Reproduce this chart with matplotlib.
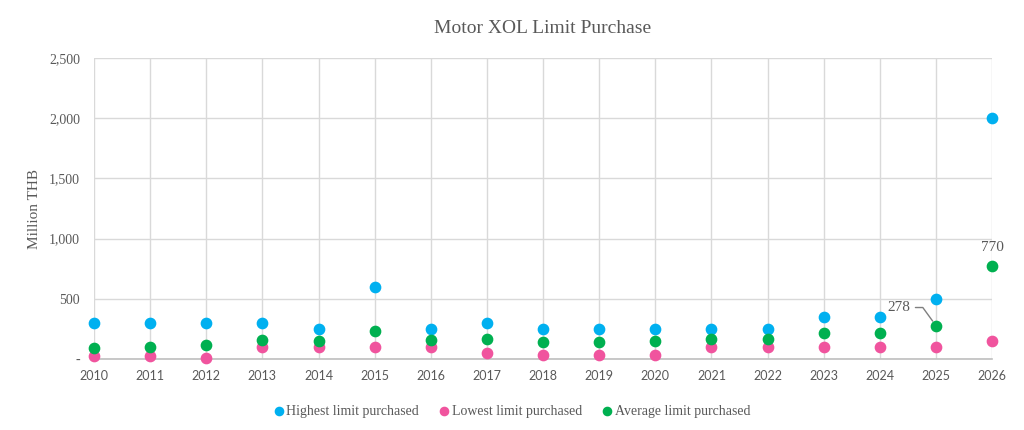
import matplotlib
matplotlib.use("Agg")
import matplotlib.pyplot as plt
from matplotlib.ticker import FuncFormatter

# Data (Million THB)
years = list(range(2010, 2027))
highest = [300, 300, 300, 300, 250, 600, 250, 300, 250, 250, 250, 250, 250, 350, 350, 500, 2000]
lowest = [25, 25, 5, 100, 100, 100, 100, 50, 30, 30, 30, 100, 100, 100, 100, 100, 150]
average = [90, 100, 115, 160, 150, 235, 160, 170, 145, 145, 150, 165, 165, 215, 215, 278, 770]

c_high = "#00B0F0"
c_low = "#F0549E"
c_avg = "#00B050"
txt = "#595959"
serif = ["Liberation Serif", "DejaVu Serif"]

fig = plt.figure(figsize=(10.24, 4.3), dpi=100)
ax = fig.add_axes([0.0918, 0.165, 0.8770, 0.700])

ax.scatter(years, highest, s=55, color=c_high, label="Highest limit purchased", zorder=3, clip_on=False)
ax.scatter(years, lowest, s=55, color=c_low, label="Lowest limit purchased", zorder=3, clip_on=False)
ax.scatter(years, average, s=55, color=c_avg, label="Average limit purchased", zorder=3, clip_on=False)

ax.set_xlim(2010, 2026)
ax.set_ylim(0, 2500)
ax.set_xticks(years)
ax.set_yticks(range(0, 2501, 500))
ax.yaxis.set_major_formatter(FuncFormatter(lambda v, p: "-" if v == 0 else f"{int(v):,}"))

ax.grid(True, color="#D9D9D9", linewidth=1)
ax.set_axisbelow(True)
for s in ["top", "right", "left"]:
    ax.spines[s].set_visible(False)
ax.spines["bottom"].set_color("#BFBFBF")
ax.spines["bottom"].set_linewidth(1.2)
ax.tick_params(length=0, colors=txt)
for lab in ax.get_xticklabels():
    lab.set_fontfamily(["Lato", "DejaVu Sans"])
    lab.set_fontsize(9)
for lab in ax.get_yticklabels():
    lab.set_fontfamily(serif)
    lab.set_fontsize(10)
ax.tick_params(axis="y", pad=10)
ax.tick_params(axis="x", pad=8)

ax.set_ylabel("Million THB", fontfamily=serif, fontsize=11, color=txt, labelpad=6)
ax.set_title("Motor XOL Limit Purchase", fontfamily=serif, fontsize=14, color=txt, pad=18)

# data labels
ax.annotate(f"{average[-1]}", (years[-1], average[-1]), xytext=(0, 9), textcoords="offset points",
            ha="center", va="bottom", fontfamily=serif, fontsize=11, color=txt)
ax.annotate(f"{average[-2]}", (years[-2], average[-2]), xytext=(-27, 13), textcoords="offset points",
            ha="center", va="center", fontfamily=serif, fontsize=11, color=txt,
            arrowprops=dict(arrowstyle="-", color="#7F7F7F", lw=1, relpos=(1, 0.5),
                            connectionstyle="angle,angleA=0,angleB=126,rad=0",
                            shrinkA=2, shrinkB=4))

leg = ax.legend(loc="upper center", bbox_to_anchor=(0.465, -0.11), ncol=3, frameon=False,
                handletextpad=0.15, handlelength=0.8, columnspacing=1.4, markerscale=0.8,
                prop={"family": serif, "size": 10})
for t in leg.get_texts():
    t.set_color(txt)

fig.savefig("out.png", dpi=100)
